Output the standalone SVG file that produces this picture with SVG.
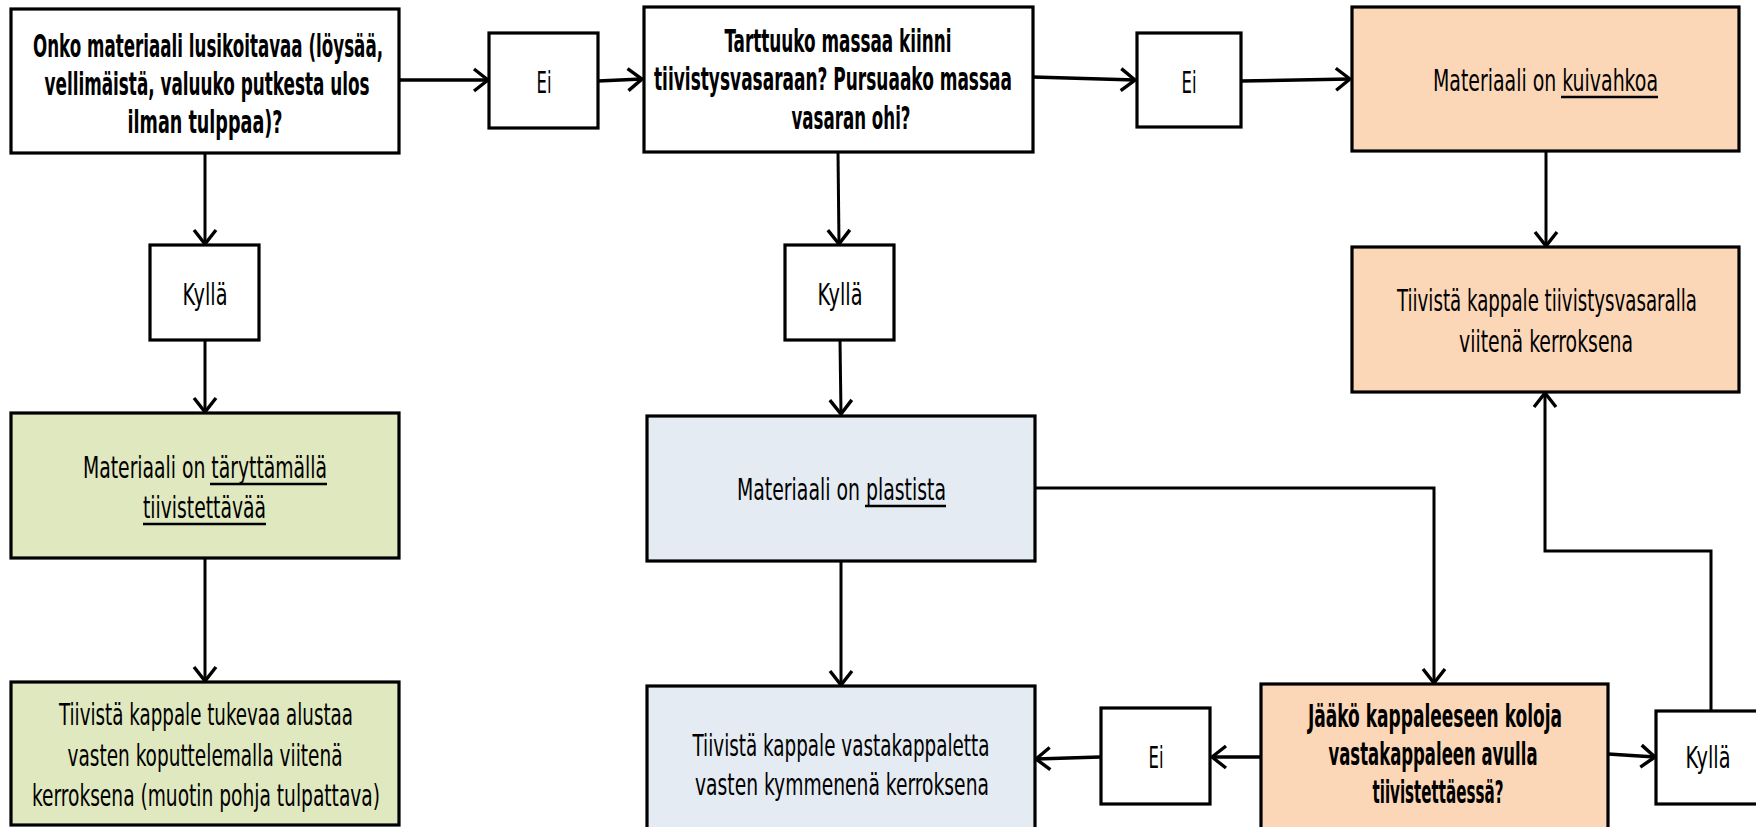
<svg xmlns="http://www.w3.org/2000/svg" width="1756" height="827" viewBox="0 0 1756 827">
  <style>
    .box { stroke: #000; stroke-width: 3.2; }
    .plain { fill: #fff; }
    .green { fill: #DFE8BE; }
    .blue { fill: #E4EBF2; }
    .orange { fill: #FCD7B7; }
    .t { font-family: "Liberation Sans Narrow", "DejaVu Sans Condensed", Lato, "Liberation Sans", sans-serif; font-size: 30px; fill: #000; }
    .b { font-family: "Liberation Sans Narrow", "DejaVu Sans Condensed", Lato, "Liberation Sans", sans-serif; font-size: 32px; font-weight: bold; fill: #000; }
    .c { text-anchor: middle; }
    .ul { stroke: #000; stroke-width: 2.4; }
    .cn { fill: none; stroke: #000; stroke-width: 3; marker-end: url(#arr); }
    .cn.h { stroke-width: 3.6; }
  </style>
  <defs>
    <marker id="arr" viewBox="-17 -13 19 26" refX="0" refY="0" markerWidth="19" markerHeight="26" markerUnits="userSpaceOnUse" orient="auto">
      <path d="M-14,-11 L0,0 L-14,11" fill="none" stroke="#000" stroke-width="3.4"/>
    </marker>
  </defs>
  <rect width="1756" height="827" fill="#fff"/>

  <!-- connectors -->
  <g id="connectors">
    <line class="cn h" x1="399" y1="80" x2="488" y2="80"/>
    <line class="cn h" x1="598" y1="81" x2="642" y2="79"/>
    <line class="cn h" x1="1033" y1="77" x2="1135" y2="80"/>
    <line class="cn h" x1="1241" y1="81" x2="1350" y2="79"/>
    <line class="cn" x1="205" y1="153" x2="205" y2="244"/>
    <line class="cn" x1="205" y1="340" x2="205" y2="412"/>
    <line class="cn" x1="205" y1="558" x2="205" y2="681"/>
    <line class="cn" x1="838" y1="152" x2="839" y2="244"/>
    <line class="cn" x1="840" y1="340" x2="841" y2="414"/>
    <line class="cn" x1="841" y1="561" x2="841" y2="685"/>
    <polyline class="cn" points="1035,488 1434,488 1434,683"/>
    <line class="cn h" x1="1261" y1="757" x2="1212" y2="757"/>
    <line class="cn h" x1="1100" y1="757" x2="1036" y2="759"/>
    <line class="cn h" x1="1608" y1="754" x2="1655" y2="757"/>
    <polyline class="cn" points="1711,711 1711,551 1545,551 1545,393"/>
    <line class="cn" x1="1546" y1="151" x2="1546" y2="246"/>
  </g>

  <!-- first question -->
  <g id="q-lusikoitava">
    <rect class="box plain" x="11" y="9" width="388" height="144"/>
    <text class="b c" x="208" y="57" textLength="350" lengthAdjust="spacingAndGlyphs">Onko materiaali lusikoitavaa (löysää,</text>
    <text class="b c" x="207" y="95" textLength="325" lengthAdjust="spacingAndGlyphs">vellimäistä, valuuko putkesta ulos</text>
    <text class="b c" x="205" y="133" textLength="155" lengthAdjust="spacingAndGlyphs">ilman tulppaa)?</text>
  </g>

  <g id="ei-1">
    <rect class="box plain" x="489" y="33" width="109" height="95"/>
    <text class="t c" x="544" y="93" textLength="15" lengthAdjust="spacingAndGlyphs">Ei</text>
  </g>

  <!-- second question -->
  <g id="q-tarttuuko">
    <rect class="box plain" x="644" y="7" width="389" height="145"/>
    <text class="b c" x="838" y="52" textLength="227" lengthAdjust="spacingAndGlyphs">Tarttuuko massaa kiinni</text>
    <text class="b c" x="833" y="90" textLength="358" lengthAdjust="spacingAndGlyphs">tiivistysvasaraan? Pursuaako massaa</text>
    <text class="b c" x="851" y="129" textLength="119" lengthAdjust="spacingAndGlyphs">vasaran ohi?</text>
  </g>

  <g id="ei-2">
    <rect class="box plain" x="1137" y="33" width="104" height="94"/>
    <text class="t c" x="1189" y="93" textLength="15" lengthAdjust="spacingAndGlyphs">Ei</text>
  </g>

  <g id="kuivahkoa">
    <rect class="box orange" x="1352" y="7" width="387" height="144"/>
    <text class="t" x="1433" y="91" textLength="225" lengthAdjust="spacingAndGlyphs">Materiaali on kuivahkoa</text>
    <line class="ul" x1="1561" y1="97" x2="1658" y2="97"/>
  </g>

  <g id="tiivista-vasaralla">
    <rect class="box orange" x="1352" y="247" width="387" height="145"/>
    <text class="t c" x="1547" y="311" textLength="300" lengthAdjust="spacingAndGlyphs">Tiivistä kappale tiivistysvasaralla</text>
    <text class="t c" x="1546" y="352" textLength="174" lengthAdjust="spacingAndGlyphs">viitenä kerroksena</text>
  </g>

  <g id="kylla-1">
    <rect class="box plain" x="150" y="245" width="109" height="95"/>
    <text class="t c" x="205" y="305" textLength="45" lengthAdjust="spacingAndGlyphs">Kyllä</text>
  </g>

  <g id="kylla-2">
    <rect class="box plain" x="785" y="245" width="109" height="95"/>
    <text class="t c" x="840" y="305" textLength="45" lengthAdjust="spacingAndGlyphs">Kyllä</text>
  </g>

  <g id="tarytettava">
    <rect class="box green" x="11" y="413" width="388" height="145"/>
    <text class="t" x="83" y="478" textLength="244" lengthAdjust="spacingAndGlyphs">Materiaali on täryttämällä</text>
    <line class="ul" x1="210" y1="484" x2="327" y2="484"/>
    <text class="t" x="143" y="518" textLength="123" lengthAdjust="spacingAndGlyphs">tiivistettävää</text>
    <line class="ul" x1="143" y1="524" x2="266" y2="524"/>
  </g>

  <g id="tiivista-alustaa">
    <rect class="box green" x="11" y="682" width="388" height="143"/>
    <text class="t c" x="206" y="725" textLength="294" lengthAdjust="spacingAndGlyphs">Tiivistä kappale tukevaa alustaa</text>
    <text class="t c" x="205" y="766" textLength="275" lengthAdjust="spacingAndGlyphs">vasten koputtelemalla viitenä</text>
    <text class="t c" x="206" y="806" textLength="348" lengthAdjust="spacingAndGlyphs">kerroksena (muotin pohja tulpattava)</text>
  </g>

  <g id="plastista">
    <rect class="box blue" x="647" y="416" width="388" height="145"/>
    <text class="t" x="737" y="500" textLength="209" lengthAdjust="spacingAndGlyphs">Materiaali on plastista</text>
    <line class="ul" x1="865" y1="506" x2="946" y2="506"/>
  </g>

  <g id="tiivista-vastakappale">
    <rect class="box blue" x="647" y="686" width="388" height="150"/>
    <text class="t c" x="841" y="756" textLength="297" lengthAdjust="spacingAndGlyphs">Tiivistä kappale vastakappaletta</text>
    <text class="t c" x="842" y="795" textLength="294" lengthAdjust="spacingAndGlyphs">vasten kymmenenä kerroksena</text>
  </g>

  <g id="ei-3">
    <rect class="box plain" x="1101" y="708" width="109" height="96"/>
    <text class="t c" x="1156" y="768" textLength="15" lengthAdjust="spacingAndGlyphs">Ei</text>
  </g>

  <g id="q-koloja">
    <rect class="box orange" x="1261" y="684" width="347" height="152"/>
    <text class="b c" x="1435" y="727" textLength="254" lengthAdjust="spacingAndGlyphs">Jääkö kappaleeseen koloja</text>
    <text class="b c" x="1433" y="765" textLength="209" lengthAdjust="spacingAndGlyphs">vastakappaleen avulla</text>
    <text class="b c" x="1438" y="803" textLength="131" lengthAdjust="spacingAndGlyphs">tiivistettäessä?</text>
  </g>

  <g id="kylla-3">
    <rect class="box plain" x="1656" y="711" width="106" height="93"/>
    <text class="t c" x="1708" y="768" textLength="45" lengthAdjust="spacingAndGlyphs">Kyllä</text>
  </g>
</svg>
